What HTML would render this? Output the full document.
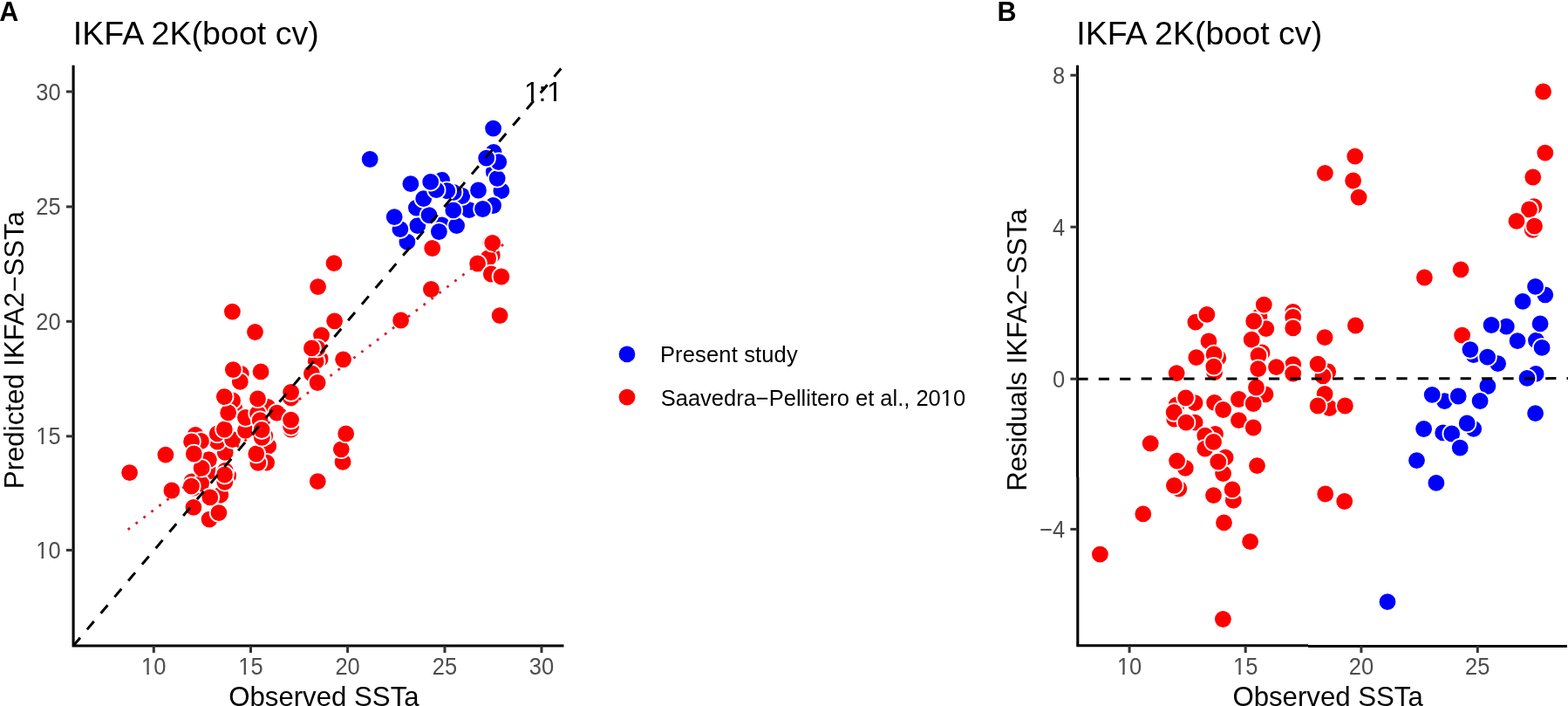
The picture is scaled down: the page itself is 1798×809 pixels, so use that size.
<!DOCTYPE html><html><head><meta charset="utf-8"><title>IKFA 2K(boot cv)</title><style>
html,body{margin:0;padding:0;background:#fff;}
body{width:1798px;height:809px;overflow:hidden;position:relative;}
svg{position:absolute;left:0;top:0;display:block;}
text{font-family:'Liberation Sans', Arial, Helvetica, sans-serif;}
.tl{fill:#4d4d4d;font-size:25.5px;}
.ttl{fill:#000;font-size:37.6px;}
.axt{fill:#000;font-size:31.2px;}
.lg{fill:#000;font-size:25.5px;}
.tag{fill:#000;font-size:30.5px;font-weight:bold;}
.ax{stroke:#000;stroke-width:3.1;fill:none;}
.tk{stroke:#333;stroke-width:3.0;fill:none;}
.r{fill:#ff0000;stroke:#fff;stroke-width:1.8;}
.b{fill:#0000ff;stroke:#fff;stroke-width:1.8;}
</style></head><body>
<svg width="1798" height="809" viewBox="0 0 1798 809">
<defs><clipPath id="c1" clipPathUnits="userSpaceOnUse"><rect x="-100.00" y="-84.30" width="2200.00" height="197.10"/><rect x="608.95" y="112.30" width="3.05" height="5.90"/><rect x="618.10" y="112.30" width="7.49" height="14.60"/><rect x="634.95" y="112.30" width="3.05" height="5.90"/></clipPath><clipPath id="c2" clipPathUnits="userSpaceOnUse"><rect x="-100.00" y="-200.00" width="2200.00" height="197.69"/><rect x="-22.10" y="-2.81" width="2.43" height="5.31"/><rect x="-13.49" y="-2.81" width="13.49" height="11.74"/></clipPath><clipPath id="c3" clipPathUnits="userSpaceOnUse"><rect x="-100.00" y="-200.00" width="2200.00" height="197.69"/><rect x="-7.92" y="-2.81" width="2.43" height="5.31"/><rect x="0.68" y="-2.81" width="13.49" height="11.74"/></clipPath><clipPath id="c4" clipPathUnits="userSpaceOnUse"><rect x="-100.00" y="-200.00" width="2200.00" height="197.69"/><rect x="-22.10" y="-2.81" width="2.43" height="5.31"/><rect x="-13.49" y="-2.81" width="13.49" height="11.74"/></clipPath><clipPath id="c5" clipPathUnits="userSpaceOnUse"><rect x="-100.00" y="-200.00" width="2200.00" height="197.69"/><rect x="-7.92" y="-2.81" width="2.43" height="5.31"/><rect x="0.68" y="-2.81" width="13.49" height="11.74"/></clipPath><clipPath id="c6" clipPathUnits="userSpaceOnUse"><rect x="-100.00" y="264.50" width="2200.00" height="197.69"/><rect x="757.70" y="461.69" width="17.02" height="11.74"/><rect x="774.70" y="461.69" width="14.20" height="11.74"/><rect x="788.89" y="461.69" width="14.19" height="11.74"/><rect x="803.06" y="461.69" width="12.77" height="11.74"/><rect x="815.81" y="461.69" width="14.20" height="11.74"/><rect x="830.00" y="461.69" width="14.20" height="11.74"/><rect x="844.18" y="461.69" width="8.50" height="11.74"/><rect x="852.67" y="461.69" width="14.20" height="11.74"/><rect x="866.86" y="461.69" width="14.91" height="11.74"/><rect x="881.75" y="461.69" width="17.02" height="11.74"/><rect x="898.75" y="461.69" width="14.20" height="11.74"/><rect x="912.93" y="461.69" width="5.69" height="11.74"/><rect x="918.61" y="461.69" width="5.67" height="11.74"/><rect x="924.26" y="461.69" width="5.69" height="11.74"/><rect x="929.93" y="461.69" width="7.09" height="11.74"/><rect x="937.01" y="461.69" width="14.20" height="11.74"/><rect x="951.20" y="461.69" width="8.50" height="11.74"/><rect x="959.68" y="461.69" width="14.20" height="11.74"/><rect x="973.87" y="461.69" width="7.09" height="11.74"/><rect x="980.95" y="461.69" width="14.20" height="11.74"/><rect x="995.14" y="461.69" width="7.09" height="11.74"/><rect x="1002.22" y="461.69" width="7.11" height="11.74"/><rect x="1009.31" y="461.69" width="14.19" height="11.74"/><rect x="1023.48" y="461.69" width="5.69" height="11.74"/><rect x="1029.15" y="461.69" width="7.09" height="11.74"/><rect x="1036.23" y="461.69" width="7.11" height="11.74"/><rect x="1043.32" y="461.69" width="7.09" height="11.74"/><rect x="1050.40" y="461.69" width="14.20" height="11.74"/><rect x="1064.59" y="461.69" width="13.50" height="11.74"/><rect x="1085.03" y="461.69" width="2.43" height="5.31"/><rect x="1093.65" y="461.69" width="13.50" height="11.74"/></clipPath><clipPath id="c7" clipPathUnits="userSpaceOnUse"><rect x="-100.00" y="-200.00" width="2200.00" height="197.69"/><rect x="-7.92" y="-2.81" width="2.43" height="5.31"/><rect x="0.68" y="-2.81" width="13.49" height="11.74"/></clipPath><clipPath id="c8" clipPathUnits="userSpaceOnUse"><rect x="-100.00" y="-200.00" width="2200.00" height="197.69"/><rect x="-7.92" y="-2.81" width="2.43" height="5.31"/><rect x="0.68" y="-2.81" width="13.49" height="11.74"/></clipPath></defs>
<g id="panelA">
<circle class="r" cx="221.9" cy="559.2" r="10.3"/>
<circle class="r" cx="219.9" cy="552.0" r="10.3"/>
<circle class="r" cx="239.4" cy="540.2" r="10.3"/>
<circle class="r" cx="239.4" cy="526.6" r="10.3"/>
<circle class="r" cx="224.1" cy="498.5" r="10.3"/>
<circle class="r" cx="240.1" cy="595.1" r="10.3"/>
<circle class="r" cx="261.7" cy="545.2" r="10.3"/>
<circle class="r" cx="258.2" cy="539.3" r="10.3"/>
<circle class="r" cx="258.2" cy="518.4" r="10.3"/>
<circle class="r" cx="259.0" cy="495.5" r="10.3"/>
<circle class="r" cx="249.2" cy="506.0" r="10.3"/>
<circle class="r" cx="249.2" cy="496.9" r="10.3"/>
<circle class="r" cx="268.7" cy="467.7" r="10.3"/>
<circle class="r" cx="266.6" cy="458.9" r="10.3"/>
<circle class="r" cx="276.3" cy="428.5" r="10.3"/>
<circle class="r" cx="301.2" cy="527.2" r="10.3"/>
<circle class="r" cx="307.7" cy="511.2" r="10.3"/>
<circle class="r" cx="303.7" cy="499.5" r="10.3"/>
<circle class="r" cx="307.0" cy="466.5" r="10.3"/>
<circle class="r" cx="333.6" cy="492.2" r="10.3"/>
<circle class="r" cx="333.6" cy="455.9" r="10.3"/>
<circle class="r" cx="367.1" cy="411.2" r="10.3"/>
<circle class="r" cx="362.2" cy="413.9" r="10.3"/>
<circle class="r" cx="368.5" cy="384.1" r="10.3"/>
<circle class="r" cx="564.3" cy="292.4" r="10.3"/>
<circle class="r" cx="562.8" cy="278.0" r="10.3"/>
<circle class="r" cx="148.6" cy="541.6" r="10.3"/>
<circle class="r" cx="189.9" cy="521.2" r="10.3"/>
<circle class="r" cx="196.9" cy="562.0" r="10.3"/>
<circle class="r" cx="230.6" cy="554.1" r="10.3"/>
<circle class="r" cx="219.4" cy="557.1" r="10.3"/>
<circle class="r" cx="231.1" cy="536.4" r="10.3"/>
<circle class="r" cx="230.4" cy="505.5" r="10.3"/>
<circle class="r" cx="219.6" cy="506.0" r="10.3"/>
<circle class="r" cx="221.9" cy="581.3" r="10.3"/>
<circle class="r" cx="250.9" cy="587.6" r="10.3"/>
<circle class="r" cx="252.7" cy="567.2" r="10.3"/>
<circle class="r" cx="240.8" cy="569.9" r="10.3"/>
<circle class="r" cx="257.8" cy="552.3" r="10.3"/>
<circle class="r" cx="266.6" cy="503.6" r="10.3"/>
<circle class="r" cx="257.3" cy="492.0" r="10.3"/>
<circle class="r" cx="261.7" cy="472.9" r="10.3"/>
<circle class="r" cx="257.3" cy="454.6" r="10.3"/>
<circle class="r" cx="275.3" cy="437.4" r="10.3"/>
<circle class="r" cx="267.3" cy="423.6" r="10.3"/>
<circle class="r" cx="266.4" cy="357.1" r="10.3"/>
<circle class="r" cx="281.5" cy="493.3" r="10.3"/>
<circle class="r" cx="281.5" cy="478.5" r="10.3"/>
<circle class="r" cx="295.5" cy="473.7" r="10.3"/>
<circle class="r" cx="298.2" cy="481.7" r="10.3"/>
<circle class="r" cx="295.5" cy="456.9" r="10.3"/>
<circle class="r" cx="299.1" cy="425.9" r="10.3"/>
<circle class="r" cx="292.5" cy="380.5" r="10.3"/>
<circle class="r" cx="305.6" cy="530.1" r="10.3"/>
<circle class="r" cx="295.9" cy="530.3" r="10.3"/>
<circle class="r" cx="293.8" cy="520.0" r="10.3"/>
<circle class="r" cx="300.3" cy="501.4" r="10.3"/>
<circle class="r" cx="300.1" cy="492.5" r="10.3"/>
<circle class="r" cx="317.5" cy="473.1" r="10.3"/>
<circle class="r" cx="333.6" cy="488.7" r="10.3"/>
<circle class="r" cx="333.6" cy="449.5" r="10.3"/>
<circle class="r" cx="357.4" cy="428.0" r="10.3"/>
<circle class="r" cx="364.1" cy="438.5" r="10.3"/>
<circle class="r" cx="393.6" cy="411.8" r="10.3"/>
<circle class="r" cx="364.1" cy="399.2" r="10.3"/>
<circle class="r" cx="357.4" cy="398.9" r="10.3"/>
<circle class="r" cx="383.6" cy="367.8" r="10.3"/>
<circle class="r" cx="364.6" cy="328.6" r="10.3"/>
<circle class="r" cx="383.0" cy="301.7" r="10.3"/>
<circle class="r" cx="393.1" cy="529.4" r="10.3"/>
<circle class="r" cx="364.3" cy="551.7" r="10.3"/>
<circle class="r" cx="391.3" cy="514.8" r="10.3"/>
<circle class="r" cx="396.7" cy="496.9" r="10.3"/>
<circle class="r" cx="459.6" cy="367.0" r="10.3"/>
<circle class="r" cx="494.4" cy="331.5" r="10.3"/>
<circle class="r" cx="495.7" cy="284.5" r="10.3"/>
<circle class="r" cx="559.7" cy="295.9" r="10.3"/>
<circle class="r" cx="547.6" cy="302.0" r="10.3"/>
<circle class="r" cx="564.7" cy="278.3" r="10.3"/>
<circle class="r" cx="563.3" cy="314.0" r="10.3"/>
<circle class="r" cx="574.9" cy="317.0" r="10.3"/>
<circle class="r" cx="573.1" cy="361.6" r="10.3"/>
<circle class="r" cx="222.3" cy="520.0" r="10.3"/>
<circle class="r" cx="257.5" cy="544.0" r="10.3"/>
<circle class="r" cx="333.6" cy="481.1" r="10.3"/>
<circle class="b" cx="574.9" cy="218.7" r="10.3"/>
<circle class="b" cx="537.9" cy="240.6" r="10.3"/>
<circle class="b" cx="566.3" cy="197.2" r="10.3"/>
<circle class="b" cx="506.6" cy="258.0" r="10.3"/>
<circle class="b" cx="529.8" cy="224.5" r="10.3"/>
<circle class="b" cx="566.0" cy="174.4" r="10.3"/>
<circle class="b" cx="478.8" cy="258.7" r="10.3"/>
<circle class="b" cx="477.4" cy="238.2" r="10.3"/>
<circle class="b" cx="506.6" cy="206.4" r="10.3"/>
<circle class="b" cx="565.6" cy="235.5" r="10.3"/>
<circle class="b" cx="553.5" cy="239.5" r="10.3"/>
<circle class="b" cx="523.6" cy="258.6" r="10.3"/>
<circle class="b" cx="570.2" cy="204.3" r="10.3"/>
<circle class="b" cx="548.5" cy="218.0" r="10.3"/>
<circle class="b" cx="571.8" cy="185.6" r="10.3"/>
<circle class="b" cx="503.4" cy="265.5" r="10.3"/>
<circle class="b" cx="519.8" cy="240.9" r="10.3"/>
<circle class="b" cx="557.7" cy="181.2" r="10.3"/>
<circle class="b" cx="520.1" cy="220.3" r="10.3"/>
<circle class="b" cx="466.9" cy="277.2" r="10.3"/>
<circle class="b" cx="492.0" cy="246.6" r="10.3"/>
<circle class="b" cx="512.8" cy="218.6" r="10.3"/>
<circle class="b" cx="565.6" cy="147.1" r="10.3"/>
<circle class="b" cx="458.9" cy="262.7" r="10.3"/>
<circle class="b" cx="485.7" cy="227.7" r="10.3"/>
<circle class="b" cx="500.3" cy="217.7" r="10.3"/>
<circle class="b" cx="493.7" cy="208.4" r="10.3"/>
<circle class="b" cx="452.2" cy="248.6" r="10.3"/>
<circle class="b" cx="470.9" cy="210.7" r="10.3"/>
<circle class="b" cx="424.2" cy="182.5" r="10.3"/>
<line x1="146.7" y1="606.9" x2="581.4" y2="276.8" stroke="#e01828" stroke-width="2.8" stroke-dasharray="2.8 8.4"/>
<text id="k1" clip-path="url(#c1)" x="601.1 617.4 627.1" y="115.7" style="font-size:32px">1:1</text>
<line x1="84.1" y1="740.0" x2="646.5" y2="74.8" stroke="#000" stroke-width="3.0" stroke-dasharray="12.2 12.2"/>
<path class="ax" d="M84.1 74.8 V740.0 H646.5"/>
<line class="tk" x1="76.0" y1="630.4" x2="84.1" y2="630.4"/>
<text id="k2" clip-path="url(#c2)" class="tl" transform="translate(69.6 639.90) scale(1 1.06)" text-anchor="end">10</text>
<line class="tk" x1="176.3" y1="740.0" x2="176.3" y2="748.0"/>
<text id="k3" clip-path="url(#c3)" class="tl" transform="translate(176.30 773.2) scale(1 1.06)" text-anchor="middle">10</text>
<line class="tk" x1="76.0" y1="499.9" x2="84.1" y2="499.9"/>
<text id="k4" clip-path="url(#c4)" class="tl" transform="translate(69.6 509.40) scale(1 1.06)" text-anchor="end">15</text>
<line class="tk" x1="287.5" y1="740.0" x2="287.5" y2="748.0"/>
<text id="k5" clip-path="url(#c5)" class="tl" transform="translate(287.50 773.2) scale(1 1.06)" text-anchor="middle">15</text>
<line class="tk" x1="76.0" y1="368.3" x2="84.1" y2="368.3"/>
<text class="tl" transform="translate(69.6 377.80) scale(1 1.06)" text-anchor="end">20</text>
<line class="tk" x1="398.6" y1="740.0" x2="398.6" y2="748.0"/>
<text class="tl" transform="translate(398.60 773.2) scale(1 1.06)" text-anchor="middle">20</text>
<line class="tk" x1="76.0" y1="236.9" x2="84.1" y2="236.9"/>
<text class="tl" transform="translate(69.6 246.40) scale(1 1.06)" text-anchor="end">25</text>
<line class="tk" x1="510.0" y1="740.0" x2="510.0" y2="748.0"/>
<text class="tl" transform="translate(510.00 773.2) scale(1 1.06)" text-anchor="middle">25</text>
<line class="tk" x1="76.0" y1="105.0" x2="84.1" y2="105.0"/>
<text class="tl" transform="translate(69.6 114.50) scale(1 1.06)" text-anchor="end">30</text>
<line class="tk" x1="621.0" y1="740.0" x2="621.0" y2="748.0"/>
<text class="tl" transform="translate(620.95 773.2) scale(1 1.06)" text-anchor="middle">30</text>
<text class="ttl" x="83.8" y="51">IKFA 2K(boot cv)</text>
<text class="axt" x="371.4" y="808.6" text-anchor="middle">Observed SSTa</text>
<text class="axt" transform="translate(26.9 401.1) rotate(-90)" text-anchor="middle">Predicted IKFA2−SSTa</text>
<text class="tag" x="-0.7" y="23.8">A</text>
</g>
<g id="legend">
<circle cx="719" cy="405.9" r="9.35" fill="#0000ff"/>
<circle cx="719" cy="455.2" r="9.35" fill="#ff0000"/>
<text class="lg" x="756.9" y="415.3" textLength="157.8" lengthAdjust="spacing">Present study</text>
<text id="k6" clip-path="url(#c6)" class="lg" x="757.7" y="464.5">Saavedra−Pellitero et al., 2010</text>
</g>
<g id="panelB">
<circle class="r" cx="1349.2" cy="464.2" r="10.3"/>
<circle class="r" cx="1346.7" cy="480.0" r="10.3"/>
<circle class="r" cx="1370.1" cy="461.7" r="10.3"/>
<circle class="r" cx="1370.1" cy="484.2" r="10.3"/>
<circle class="r" cx="1351.8" cy="560.0" r="10.3"/>
<circle class="r" cx="1370.9" cy="369.2" r="10.3"/>
<circle class="r" cx="1396.8" cy="410.0" r="10.3"/>
<circle class="r" cx="1392.6" cy="426.7" r="10.3"/>
<circle class="r" cx="1392.6" cy="461.3" r="10.3"/>
<circle class="r" cx="1393.5" cy="497.5" r="10.3"/>
<circle class="r" cx="1381.8" cy="499.2" r="10.3"/>
<circle class="r" cx="1381.8" cy="514.2" r="10.3"/>
<circle class="r" cx="1405.1" cy="524.2" r="10.3"/>
<circle class="r" cx="1402.6" cy="542.6" r="10.3"/>
<circle class="r" cx="1414.3" cy="573.4" r="10.3"/>
<circle class="r" cx="1444.0" cy="362.7" r="10.3"/>
<circle class="r" cx="1451.8" cy="376.7" r="10.3"/>
<circle class="r" cx="1447.0" cy="404.0" r="10.3"/>
<circle class="r" cx="1451.0" cy="451.8" r="10.3"/>
<circle class="r" cx="1482.7" cy="357.5" r="10.3"/>
<circle class="r" cx="1482.7" cy="417.6" r="10.3"/>
<circle class="r" cx="1522.7" cy="425.9" r="10.3"/>
<circle class="r" cx="1516.9" cy="430.9" r="10.3"/>
<circle class="r" cx="1524.4" cy="467.5" r="10.3"/>
<circle class="r" cx="1759.0" cy="236.7" r="10.3"/>
<circle class="r" cx="1757.3" cy="263.4" r="10.3"/>
<circle class="r" cx="1261.4" cy="635.2" r="10.3"/>
<circle class="r" cx="1310.8" cy="588.9" r="10.3"/>
<circle class="r" cx="1319.2" cy="508.1" r="10.3"/>
<circle class="r" cx="1359.6" cy="455.8" r="10.3"/>
<circle class="r" cx="1346.2" cy="472.5" r="10.3"/>
<circle class="r" cx="1360.1" cy="484.2" r="10.3"/>
<circle class="r" cx="1359.3" cy="536.4" r="10.3"/>
<circle class="r" cx="1346.4" cy="556.4" r="10.3"/>
<circle class="r" cx="1349.2" cy="427.6" r="10.3"/>
<circle class="r" cx="1383.9" cy="360.4" r="10.3"/>
<circle class="r" cx="1386.0" cy="390.9" r="10.3"/>
<circle class="r" cx="1371.8" cy="409.7" r="10.3"/>
<circle class="r" cx="1392.1" cy="405.9" r="10.3"/>
<circle class="r" cx="1402.6" cy="469.5" r="10.3"/>
<circle class="r" cx="1391.5" cy="506.4" r="10.3"/>
<circle class="r" cx="1396.8" cy="529.2" r="10.3"/>
<circle class="r" cx="1391.5" cy="567.6" r="10.3"/>
<circle class="r" cx="1413.1" cy="560.9" r="10.3"/>
<circle class="r" cx="1403.5" cy="598.9" r="10.3"/>
<circle class="r" cx="1402.4" cy="709.5" r="10.3"/>
<circle class="r" cx="1420.5" cy="457.5" r="10.3"/>
<circle class="r" cx="1420.5" cy="481.7" r="10.3"/>
<circle class="r" cx="1437.2" cy="462.5" r="10.3"/>
<circle class="r" cx="1440.5" cy="444.0" r="10.3"/>
<circle class="r" cx="1437.2" cy="490.0" r="10.3"/>
<circle class="r" cx="1441.5" cy="533.7" r="10.3"/>
<circle class="r" cx="1433.6" cy="620.7" r="10.3"/>
<circle class="r" cx="1449.3" cy="349.2" r="10.3"/>
<circle class="r" cx="1437.7" cy="368.0" r="10.3"/>
<circle class="r" cx="1435.2" cy="389.2" r="10.3"/>
<circle class="r" cx="1443.0" cy="407.5" r="10.3"/>
<circle class="r" cx="1442.7" cy="422.6" r="10.3"/>
<circle class="r" cx="1463.5" cy="420.6" r="10.3"/>
<circle class="r" cx="1482.7" cy="363.4" r="10.3"/>
<circle class="r" cx="1482.7" cy="428.1" r="10.3"/>
<circle class="r" cx="1511.1" cy="417.1" r="10.3"/>
<circle class="r" cx="1519.1" cy="386.7" r="10.3"/>
<circle class="r" cx="1554.4" cy="373.0" r="10.3"/>
<circle class="r" cx="1519.1" cy="451.5" r="10.3"/>
<circle class="r" cx="1511.1" cy="465.0" r="10.3"/>
<circle class="r" cx="1542.4" cy="465.0" r="10.3"/>
<circle class="r" cx="1519.7" cy="566.0" r="10.3"/>
<circle class="r" cx="1541.7" cy="574.5" r="10.3"/>
<circle class="r" cx="1553.8" cy="179.2" r="10.3"/>
<circle class="r" cx="1519.4" cy="198.4" r="10.3"/>
<circle class="r" cx="1551.6" cy="207.0" r="10.3"/>
<circle class="r" cx="1558.1" cy="226.1" r="10.3"/>
<circle class="r" cx="1633.4" cy="318.0" r="10.3"/>
<circle class="r" cx="1675.1" cy="308.8" r="10.3"/>
<circle class="r" cx="1676.6" cy="384.2" r="10.3"/>
<circle class="r" cx="1753.5" cy="240.0" r="10.3"/>
<circle class="r" cx="1739.0" cy="253.4" r="10.3"/>
<circle class="r" cx="1759.5" cy="259.2" r="10.3"/>
<circle class="r" cx="1757.8" cy="203.0" r="10.3"/>
<circle class="r" cx="1771.8" cy="175.2" r="10.3"/>
<circle class="r" cx="1769.6" cy="105.0" r="10.3"/>
<circle class="r" cx="1349.6" cy="528.1" r="10.3"/>
<circle class="r" cx="1391.8" cy="420.1" r="10.3"/>
<circle class="r" cx="1482.7" cy="375.9" r="10.3"/>
<circle class="b" cx="1771.8" cy="337.8" r="10.3"/>
<circle class="b" cx="1727.3" cy="374.2" r="10.3"/>
<circle class="b" cx="1761.5" cy="390.1" r="10.3"/>
<circle class="b" cx="1689.7" cy="406.7" r="10.3"/>
<circle class="b" cx="1717.6" cy="416.7" r="10.3"/>
<circle class="b" cx="1761.1" cy="428.4" r="10.3"/>
<circle class="b" cx="1656.4" cy="459.7" r="10.3"/>
<circle class="b" cx="1654.7" cy="495.9" r="10.3"/>
<circle class="b" cx="1689.7" cy="491.4" r="10.3"/>
<circle class="b" cx="1760.6" cy="328.4" r="10.3"/>
<circle class="b" cx="1746.1" cy="345.4" r="10.3"/>
<circle class="b" cx="1710.1" cy="372.5" r="10.3"/>
<circle class="b" cx="1766.1" cy="370.9" r="10.3"/>
<circle class="b" cx="1740.1" cy="390.6" r="10.3"/>
<circle class="b" cx="1768.1" cy="398.4" r="10.3"/>
<circle class="b" cx="1685.9" cy="400.6" r="10.3"/>
<circle class="b" cx="1705.6" cy="409.2" r="10.3"/>
<circle class="b" cx="1751.1" cy="433.4" r="10.3"/>
<circle class="b" cx="1705.9" cy="442.5" r="10.3"/>
<circle class="b" cx="1642.2" cy="452.3" r="10.3"/>
<circle class="b" cx="1672.2" cy="454.0" r="10.3"/>
<circle class="b" cx="1697.1" cy="459.5" r="10.3"/>
<circle class="b" cx="1760.6" cy="473.7" r="10.3"/>
<circle class="b" cx="1632.6" cy="491.5" r="10.3"/>
<circle class="b" cx="1664.7" cy="497.0" r="10.3"/>
<circle class="b" cx="1682.2" cy="485.0" r="10.3"/>
<circle class="b" cx="1674.2" cy="513.1" r="10.3"/>
<circle class="b" cx="1624.5" cy="527.6" r="10.3"/>
<circle class="b" cx="1646.9" cy="553.4" r="10.3"/>
<circle class="b" cx="1591.0" cy="689.7" r="10.3"/>
<line x1="1235.4" y1="434.2" x2="1798" y2="433.6" stroke="#000" stroke-width="3.0" stroke-dasharray="12.2 12.2"/>
<path class="ax" d="M1235.50 74.8 V546.7 M1235.80 546.7 V739.7 H1500" stroke-linejoin="miter"/>
<path class="ax" d="M1500 740.5 H1797.0"/>
<line class="tk" x1="1227.4" y1="606.4" x2="1235.5" y2="606.4"/>
<text class="tl" transform="translate(1221.2 615.90) scale(1 1.06)" text-anchor="end">−4</text>
<line class="tk" x1="1227.4" y1="434.2" x2="1235.5" y2="434.2"/>
<text class="tl" transform="translate(1221.2 443.70) scale(1 1.06)" text-anchor="end">0</text>
<line class="tk" x1="1227.4" y1="260.1" x2="1235.5" y2="260.1"/>
<text class="tl" transform="translate(1221.2 269.60) scale(1 1.06)" text-anchor="end">4</text>
<line class="tk" x1="1227.4" y1="86.2" x2="1235.5" y2="86.2"/>
<text class="tl" transform="translate(1221.2 95.70) scale(1 1.06)" text-anchor="end">8</text>
<line class="tk" x1="1295.1" y1="740.0" x2="1295.1" y2="748.0"/>
<text id="k7" clip-path="url(#c7)" class="tl" transform="translate(1295.10 773.2) scale(1 1.06)" text-anchor="middle">10</text>
<line class="tk" x1="1428.2" y1="740.0" x2="1428.2" y2="748.0"/>
<text id="k8" clip-path="url(#c8)" class="tl" transform="translate(1428.20 773.2) scale(1 1.06)" text-anchor="middle">15</text>
<line class="tk" x1="1560.9" y1="740.0" x2="1560.9" y2="748.0"/>
<text class="tl" transform="translate(1560.90 773.2) scale(1 1.06)" text-anchor="middle">20</text>
<line class="tk" x1="1694.3" y1="740.0" x2="1694.3" y2="748.0"/>
<text class="tl" transform="translate(1694.30 773.2) scale(1 1.06)" text-anchor="middle">25</text>
<text class="ttl" x="1234.2" y="51">IKFA 2K(boot cv)</text>
<text class="axt" x="1522.6" y="808.6" text-anchor="middle">Observed SSTa</text>
<text class="axt" transform="translate(1177.4 401.1) rotate(-90)" text-anchor="middle">Residuals IKFA2−SSTa</text>
<text class="tag" x="1143.5" y="23.8">B</text>
</g>
</svg></body></html>
